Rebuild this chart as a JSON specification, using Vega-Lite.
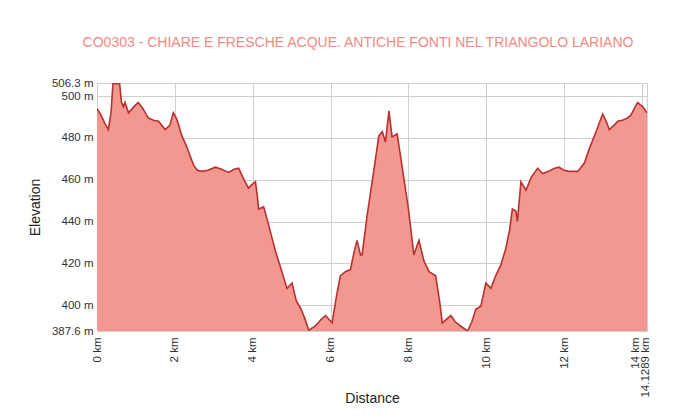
{
  "$schema": "https://vega.github.io/schema/vega-lite/v6.json",
  "width": 550,
  "height": 248,
  "autosize": {"type": "none"},
  "padding": {"left": 97, "top": 83, "right": 35, "bottom": 87},
  "background": "white",
  "title": {
    "text": "CO0303 - CHIARE E FRESCHE ACQUE. ANTICHE FONTI NEL TRIANGOLO LARIANO",
    "fontSize": 14,
    "fontWeight": "normal",
    "font": "Liberation Sans",
    "color": "#f08a84",
    "anchor": "middle",
    "frame": "group",
    "dx": -14,
    "offset": 27
  },
  "data": {
    "values": [
      {"km": 0, "ele": 494}, {"km": 0.1, "ele": 491}, {"km": 0.2, "ele": 487}, {"km": 0.29, "ele": 484},
      {"km": 0.36, "ele": 492}, {"km": 0.41, "ele": 506}, {"km": 0.58, "ele": 506}, {"km": 0.63, "ele": 497},
      {"km": 0.68, "ele": 495}, {"km": 0.72, "ele": 497}, {"km": 0.81, "ele": 492}, {"km": 0.95, "ele": 495},
      {"km": 1.06, "ele": 497}, {"km": 1.18, "ele": 494}, {"km": 1.32, "ele": 489.5}, {"km": 1.45, "ele": 488.5},
      {"km": 1.58, "ele": 488}, {"km": 1.75, "ele": 484}, {"km": 1.87, "ele": 486}, {"km": 1.96, "ele": 492},
      {"km": 2.05, "ele": 489}, {"km": 2.18, "ele": 481}, {"km": 2.3, "ele": 476}, {"km": 2.48, "ele": 467},
      {"km": 2.58, "ele": 464.5}, {"km": 2.69, "ele": 464}, {"km": 2.85, "ele": 464.5}, {"km": 3.04, "ele": 466},
      {"km": 3.2, "ele": 465}, {"km": 3.38, "ele": 463.5}, {"km": 3.52, "ele": 465}, {"km": 3.64, "ele": 465.5},
      {"km": 3.75, "ele": 461}, {"km": 3.89, "ele": 456}, {"km": 4.0, "ele": 458}, {"km": 4.07, "ele": 459},
      {"km": 4.12, "ele": 452}, {"km": 4.15, "ele": 446}, {"km": 4.28, "ele": 447}, {"km": 4.4, "ele": 439},
      {"km": 4.58, "ele": 426}, {"km": 4.75, "ele": 416}, {"km": 4.88, "ele": 408}, {"km": 5.01, "ele": 410.5},
      {"km": 5.12, "ele": 402}, {"km": 5.23, "ele": 398.5}, {"km": 5.33, "ele": 394}, {"km": 5.44, "ele": 388},
      {"km": 5.61, "ele": 390}, {"km": 5.75, "ele": 393}, {"km": 5.87, "ele": 395}, {"km": 6.04, "ele": 391.5},
      {"km": 6.15, "ele": 404}, {"km": 6.25, "ele": 414}, {"km": 6.38, "ele": 416}, {"km": 6.51, "ele": 417},
      {"km": 6.6, "ele": 425}, {"km": 6.68, "ele": 431}, {"km": 6.77, "ele": 424}, {"km": 6.81, "ele": 424},
      {"km": 6.94, "ele": 443}, {"km": 7.1, "ele": 463}, {"km": 7.24, "ele": 481}, {"km": 7.33, "ele": 483},
      {"km": 7.41, "ele": 478}, {"km": 7.5, "ele": 493}, {"km": 7.58, "ele": 480.5}, {"km": 7.71, "ele": 482},
      {"km": 7.8, "ele": 471}, {"km": 7.88, "ele": 461}, {"km": 8.0, "ele": 446}, {"km": 8.14, "ele": 424},
      {"km": 8.27, "ele": 431}, {"km": 8.4, "ele": 421}, {"km": 8.53, "ele": 416}, {"km": 8.7, "ele": 414},
      {"km": 8.8, "ele": 402}, {"km": 8.87, "ele": 391.5}, {"km": 9.09, "ele": 395}, {"km": 9.2, "ele": 392},
      {"km": 9.34, "ele": 390}, {"km": 9.52, "ele": 387.6}, {"km": 9.63, "ele": 392}, {"km": 9.73, "ele": 398},
      {"km": 9.86, "ele": 399.5}, {"km": 9.99, "ele": 410.5}, {"km": 10.12, "ele": 408}, {"km": 10.24, "ele": 414},
      {"km": 10.37, "ele": 419}, {"km": 10.5, "ele": 427}, {"km": 10.6, "ele": 436}, {"km": 10.67, "ele": 446},
      {"km": 10.76, "ele": 445}, {"km": 10.8, "ele": 440}, {"km": 10.89, "ele": 459}, {"km": 11.02, "ele": 455},
      {"km": 11.15, "ele": 461}, {"km": 11.32, "ele": 465.5}, {"km": 11.45, "ele": 463}, {"km": 11.6, "ele": 464},
      {"km": 11.75, "ele": 465.5}, {"km": 11.87, "ele": 466}, {"km": 12.0, "ele": 464.5}, {"km": 12.13, "ele": 464},
      {"km": 12.35, "ele": 464}, {"km": 12.52, "ele": 468}, {"km": 12.65, "ele": 475}, {"km": 12.82, "ele": 483},
      {"km": 12.99, "ele": 491.5}, {"km": 13.08, "ele": 488}, {"km": 13.16, "ele": 484}, {"km": 13.28, "ele": 486},
      {"km": 13.38, "ele": 488}, {"km": 13.5, "ele": 488.5}, {"km": 13.63, "ele": 489.5}, {"km": 13.72, "ele": 491},
      {"km": 13.8, "ele": 494}, {"km": 13.89, "ele": 497}, {"km": 13.95, "ele": 496}, {"km": 14.02, "ele": 495},
      {"km": 14.1289, "ele": 492}
    ]
  },
  "mark": {
    "type": "area",
    "color": "#f39891",
    "opacity": 1,
    "clip": true,
    "line": {"color": "#b8312f", "strokeWidth": 1.6}
  },
  "encoding": {
    "x": {
      "field": "km",
      "type": "quantitative",
      "title": "Distance",
      "scale": {"domain": [0, 14.1289], "nice": false, "zero": false},
      "axis": {
        "values": [0, 2, 4, 6, 8, 10, 12, 14, 14.1289],
        "labelExpr": "datum.value + ' km'",
        "labelAngle": -90,
        "labelAlign": "right",
        "labelBaseline": "middle",
        "labelPadding": 6,
        "labelOffset": {"condition": [{"test": "datum.value == 14", "value": -6}, {"test": "datum.value > 14", "value": -2}], "value": 0},
        "labelOverlap": false,
        "labelFlush": false,
        "titleX": 275,
        "titleY": 67,
        "titleAlign": "center",
        "titleBaseline": "middle"
      }
    },
    "y": {
      "field": "ele",
      "type": "quantitative",
      "title": "Elevation",
      "scale": {"domain": [387.6, 506.3], "nice": false, "zero": false},
      "axis": {
        "values": [387.6, 400, 420, 440, 460, 480, 500, 506.3],
        "labelExpr": "datum.value + ' m'",
        "labelOverlap": false,
        "labelFlush": false,
        "labelPadding": 4,
        "titleX": -62,
        "titleY": 124,
        "titleAngle": -90,
        "titleAlign": "center",
        "titleBaseline": "middle"
      }
    }
  },
  "config": {
    "view": {"stroke": null},
    "axis": {
      "domain": false,
      "ticks": false,
      "grid": true,
      "gridColor": "#cfcfcf",
      "gridWidth": 1,
      "labelFont": "Liberation Sans",
      "labelFontSize": 11.5,
      "labelColor": "#333333",
      "titleFont": "Liberation Sans",
      "titleFontSize": 14,
      "titleFontWeight": "normal",
      "titleColor": "#222222"
    }
  }
}
